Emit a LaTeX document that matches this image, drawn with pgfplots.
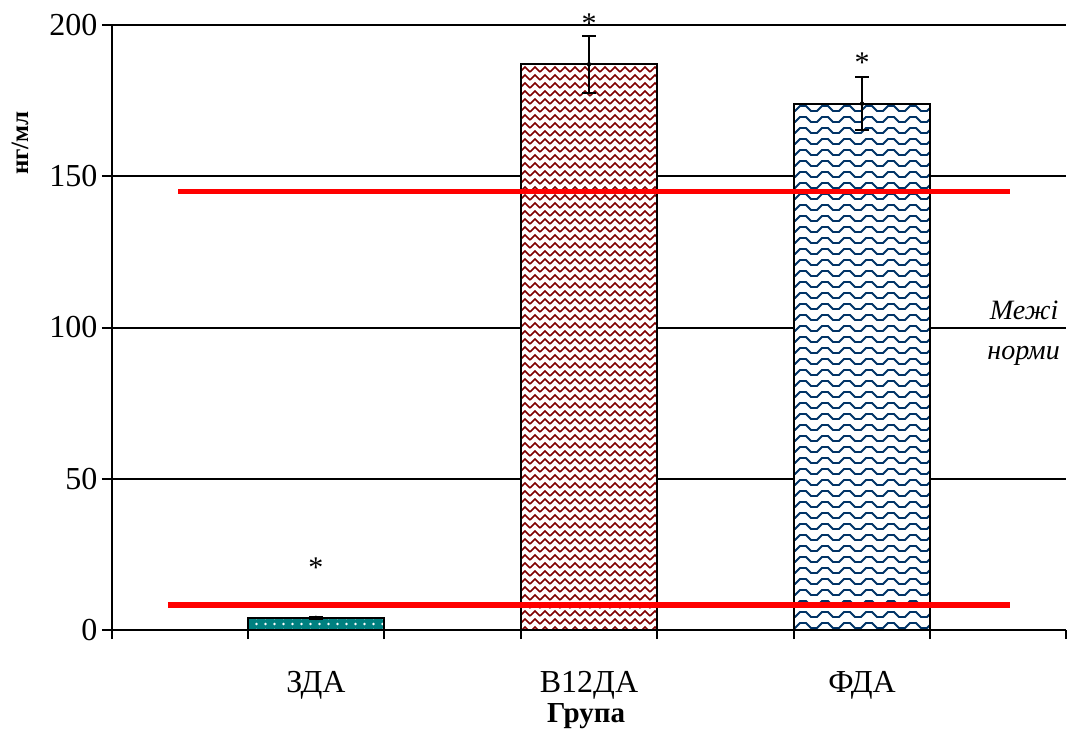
\documentclass[border=0pt]{standalone}
\usepackage{fontspec}
\setmainfont{Liberation Serif}
\usepackage{pgfplots}
\pgfplotsset{compat=1.18}
\usetikzlibrary{patterns}
\definecolor{bteal}{RGB}{0,128,128}
\definecolor{bred}{RGB}{128,0,0}
\definecolor{bblue}{RGB}{0,51,102}
\definecolor{nred}{RGB}{255,0,0}
\pgfdeclarepatternformonly{zzred}{\pgfqpoint{-1pt}{-1pt}}{\pgfqpoint{11pt}{9pt}}{\pgfqpoint{10pt}{8pt}}{%
  \pgfsetlinewidth{1.6pt}%
  \pgfpathmoveto{\pgfqpoint{0pt}{1pt}}%
  \pgfpathlineto{\pgfqpoint{5pt}{6pt}}%
  \pgfpathlineto{\pgfqpoint{10pt}{1pt}}%
  \pgfusepath{stroke}}
\pgfdeclarepatternformonly{wavebl}{\pgfqpoint{-1pt}{-1pt}}{\pgfqpoint{23pt}{12pt}}{\pgfqpoint{22pt}{11pt}}{%
  \pgfsetlinewidth{1.8pt}%
  \pgfpathmoveto{\pgfqpoint{0pt}{2pt}}%
  \pgfpathlineto{\pgfqpoint{3pt}{2pt}}%
  \pgfpathlineto{\pgfqpoint{8pt}{7pt}}%
  \pgfpathlineto{\pgfqpoint{14pt}{7pt}}%
  \pgfpathlineto{\pgfqpoint{19pt}{2pt}}%
  \pgfpathlineto{\pgfqpoint{22pt}{2pt}}%
  \pgfusepath{stroke}}
\pgfdeclarepatternformonly{wdots}{\pgfqpoint{-2pt}{-2pt}}{\pgfqpoint{10pt}{10pt}}{\pgfqpoint{9pt}{6pt}}{%
  \pgfpathcircle{\pgfqpoint{4.5pt}{3pt}}{1.4pt}%
  \pgfusepath{fill}}
\begin{document}
\begin{tikzpicture}
\begin{axis}[
  scale only axis,
  width=954pt, height=605pt,
  xmin=-0.747, xmax=2.747,
  ymin=0, ymax=200,
  ytick={0,50,100,150,200},
  xtick={0,1,2},
  xticklabels={ЗДА,В12ДА,ФДА},
  minor xtick={-0.747,-0.25,0.25,0.75,1.25,1.75,2.25,2.747},
  axis x line=bottom, axis y line=left,
  axis line style={-, black, line width=2pt},
  tick align=outside,
  major tick length=10pt,
  minor tick length=9pt,
  major x tick style={draw=none},
  minor x tick style={black, line width=2pt},
  major y tick style={black, line width=2pt},
  ymajorgrids,
  major grid style={black, line width=2pt},
  /pgf/number format/assume math mode=true,
  tick label style={font=\fontsize{32}{38}\selectfont},
  xticklabel style={yshift=-28pt},
  yticklabel style={xshift=-1pt},
  ylabel={нг/мл},
  ylabel style={at={(axis description cs:-0.0965,0.805)}, anchor=center, font=\fontsize{25}{30}\selectfont\bfseries},
  xlabel={Група},
  xlabel style={at={(axis description cs:0.497,-0.142)}, anchor=center, font=\fontsize{29}{35}\selectfont\bfseries},
  clip=false,
]
\addplot[ybar, bar width=136pt, bar shift=0pt, draw=black, line width=2pt, fill=bteal,
  postaction={pattern=wdots, pattern color=white}] coordinates {(0,4)};
\addplot[ybar, bar width=136pt, bar shift=0pt, draw=black, line width=2pt, fill=white,
  postaction={pattern=zzred, pattern color=bred}] coordinates {(1,187)};
\addplot[ybar, bar width=136pt, bar shift=0pt, draw=black, line width=2pt, fill=white,
  postaction={pattern=wavebl, pattern color=bblue}] coordinates {(2,174)};
\addplot[only marks, mark=none, forget plot,
  error bars/.cd, y dir=both, y explicit, error mark=-,
  error bar style={draw=black, line width=2pt},
  error mark options={draw=black, line width=2pt, mark size=7pt, rotate=90}]
  coordinates {(0,4) +- (0,0.3) (1,187) +- (0,9.5) (2,174) +- (0,8.7)};
\addplot[nred, line width=5.5pt, forget plot] coordinates {(-0.505,145) (2.542,145)};
\addplot[nred, line width=5.5pt, forget plot] coordinates {(-0.542,8.3) (2.542,8.3)};
\node[font=\fontsize{30}{36}\selectfont] at (axis cs:0,20.5) {*};
\node[font=\fontsize{30}{36}\selectfont] at (axis cs:1,200.5) {*};
\node[font=\fontsize{30}{36}\selectfont] at (axis cs:2,187.5) {*};
\node[anchor=east, font=\fontsize{28}{33}\selectfont\itshape] at (axis cs:2.732,105.6) {Межі};
\node[anchor=east, font=\fontsize{28}{33}\selectfont\itshape] at (axis cs:2.737,90.6) {норми};
\end{axis}
\pgfresetboundingbox
\path (-112pt,-99pt) rectangle (955pt,630pt);
\end{tikzpicture}
\end{document}
